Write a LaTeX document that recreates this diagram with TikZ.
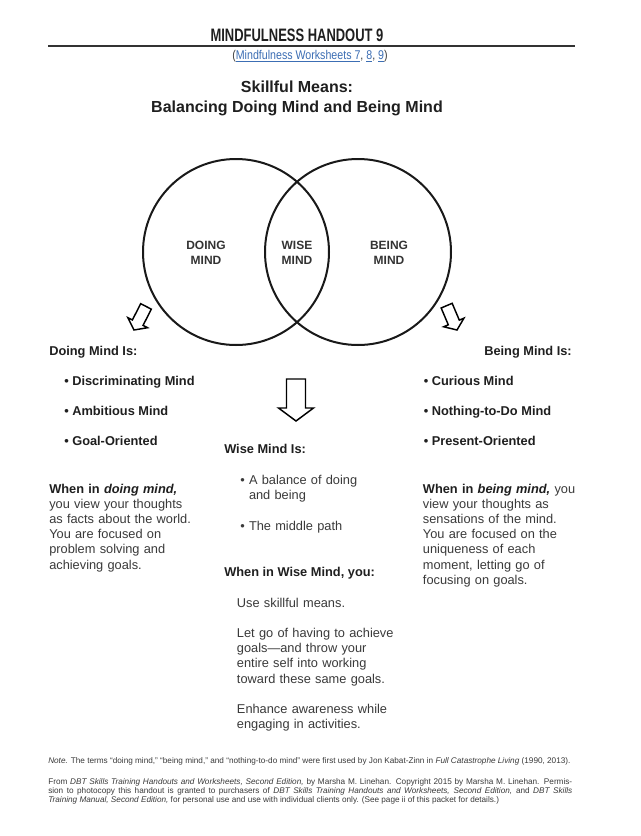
\documentclass[tikz,border=0pt]{standalone}
\usepackage{fontspec}
\setmainfont{Liberation Sans}
\newfontfamily\condfont[FakeStretch=0.72]{Liberation Sans}
\newfontfamily\subfont[FakeStretch=0.84]{Liberation Sans}
\usetikzlibrary{positioning}
\definecolor{bodygray}{HTML}{3A3A3A}
\definecolor{linkblue}{HTML}{3C6EB4}
\newcommand{\bodysize}{\fontsize{9.6}{11.4}\selectfont}
\newcommand{\wsref}[1]{\textcolor{linkblue}{\underline{#1}}}

\begin{document}
\begin{tikzpicture}[x=0.75pt, y=-0.75pt,
  venn/.style={line width=1.5pt, draw=black!90},
  vennlbl/.style={font=\fontsize{9}{11.3}\selectfont\bfseries, align=center,
                  text=black!80, inner sep=0pt},
  block/.style={line width=1.1pt, line join=miter, fill=white},
  hdr/.style={font=\condfont\bfseries\fontsize{13.5}{16}\selectfont,
              text=black!88, inner sep=0pt, anchor=base},
  subhdr/.style={font=\subfont\fontsize{9.5}{11}\selectfont, text=bodygray,
                 inner sep=0pt, anchor=base},
  titletxt/.style={font=\bfseries\fontsize{12}{15}\selectfont, text=black!88,
                   inner sep=0pt, anchor=base},
  head/.style={font=\bodysize\bfseries, text=black!88, inner sep=0pt,
               anchor=base west},
  itm/.style={head},
  para/.style={font=\bodysize, text=bodygray, align=left, inner sep=0pt,
               anchor=base west, text width=#1},
  para/.default=140pt,
  note/.style={font=\fontsize{6.15}{7}\selectfont, text=bodygray,
               inner sep=0pt, anchor=base west},
  pics/fatarrow/.style={code={
    \draw[block] (0,0) -- (-13,-17.5) -- (-13,-9.5) -- (-42,-9.5)
      -- (-42,9.5) -- (-13,9.5) -- (-13,17.5) -- cycle;}}]
  \useasboundingbox (0,0) rectangle (640,836);
  \fill[white] (0,0) rectangle (640,836);

  % header
  \node[hdr] (handout) at (297,41) {MINDFULNESS HANDOUT 9};
  \coordinate (ruleL) at (48,45.5);
  \coordinate (ruleR) at (575,45.5);
  \draw[line width=1.5pt, black!80] (ruleL) -- (ruleR);
  \node[subhdr] (worksheets) at (310,59)
    {(\wsref{Mindfulness Worksheets 7}, \wsref{8}, \wsref{9})};
  \node[titletxt] (title1) at (297,92) {Skillful Means:};
  \node[titletxt] (title2) at (297,112) {Balancing Doing Mind and Being Mind};

  % the two minds
  \coordinate (doingc) at (236,252);
  \coordinate (beingc) at (358,252);
  \draw[venn] (doingc) circle [radius=93];
  \draw[venn] (beingc) circle [radius=93];
  \node[vennlbl] (doing) at (206,252.5) {DOING\\MIND};
  \node[vennlbl] (wise) at (297,252.5) {WISE\\MIND};
  \node[vennlbl] (being) at (389,252.5) {BEING\\MIND};

  \pic[rotate=243, scale=0.63] (arrdoing) at (134,330) {fatarrow};
  \pic[rotate=-67, scale=0.63] (arrbeing) at (457,330) {fatarrow};
  \pic[rotate=-90] (arrwise) at (296,421) {fatarrow};

  % doing mind
  \node[head] (doinghead) at (49,355) {Doing Mind Is:};
  \node[itm, below=23pt of doinghead.base west, anchor=base west, xshift=11.25pt]
    (doing1) {\textbullet\ Discriminating Mind};
  \node[itm, below=22.5pt of doing1.base west, anchor=base west]
    (doing2) {\textbullet\ Ambitious Mind};
  \node[itm, below=22.5pt of doing2.base west, anchor=base west]
    (doing3) {\textbullet\ Goal-Oriented};
  \node[para] (doingtext) at (49,493)
    {{\color{black!88}\bfseries When in \textit{doing mind,}}\\
     you view your thoughts\\
     as facts about the world.\\
     You are focused on\\
     problem solving and\\
     achieving goals.};

  % being mind
  \node[head, anchor=base east] (beinghead) at (572,355) {Being Mind Is:};
  \node[itm] (being1) at (423.5,385) {\textbullet\ Curious Mind};
  \node[itm, below=22.5pt of being1.base west, anchor=base west]
    (being2) {\textbullet\ Nothing-to-Do Mind};
  \node[itm, below=22.5pt of being2.base west, anchor=base west]
    (being3) {\textbullet\ Present-Oriented};
  \node[para] (beingtext) at (422.7,493)
    {{\color{black!88}\bfseries When in \textit{being mind,}} you\\
     view your thoughts as\\
     sensations of the mind.\\
     You are focused on the\\
     uniqueness of each\\
     moment, letting go of\\
     focusing on goals.};

  % wise mind
  \node[head] (wisehead) at (224,453.5) {Wise Mind Is:};
  \node[para] (wise1) at (240,484.5)
    {\textbullet\ A balance of doing\\
     \phantom{\textbullet\ }and being};
  \node[para] (wise2) at (240,530) {\textbullet\ The middle path};
  \node[head] (wisewhen) at (224,576) {When in Wise Mind, you:};
  \node[para] (wisetext) at (236.7,607)
    {Use skillful means.\\[11.4pt]
     Let go of having to achieve\\
     goals---and throw your\\
     entire self into working\\
     toward these same goals.\\[11.4pt]
     Enhance awareness while\\
     engaging in activities.};

  % footer
  \node[note] (notetext) at (48,763)
    {\textit{Note.} The terms “doing mind,” “being mind,” and “nothing-to-do mind”
     were first used by Jon Kabat-Zinn in \textit{Full Catastrophe Living} (1990, 2013).};
  \node[note, text width=393pt, align=justify] (credit) at (48,784)
    {From \textit{DBT Skills Training Handouts and Worksheets, Second Edition,} by
     Marsha M. Linehan. Copyright 2015 by Marsha M. Linehan. Permis-\linebreak
     sion to photocopy this handout is granted to purchasers of \textit{DBT Skills
     Training Handouts and Worksheets, Second Edition,} and \textit{DBT Skills}\linebreak
     \textit{Training Manual, Second Edition,} for personal use and use with
     individual clients only. (See page ii of this packet for details.)};
\end{tikzpicture}
\end{document}
